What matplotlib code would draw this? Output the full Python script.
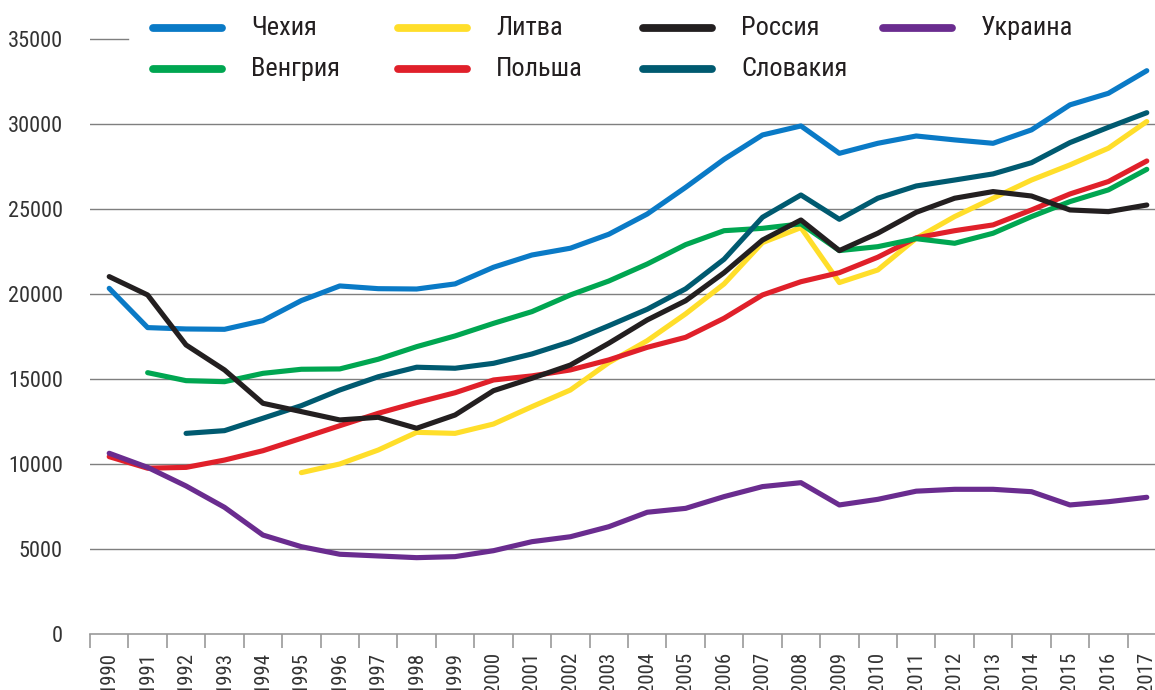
import numpy as np
import matplotlib
matplotlib.use("Agg")
import matplotlib.pyplot as plt
from matplotlib.lines import Line2D

plt.rcParams['font.family'] = ['Roboto Condensed', 'Liberation Sans Narrow', 'DejaVu Sans']
plt.rcParams['font.stretch'] = 'condensed'

years = list(range(1990, 2018))
nan = np.nan

czech = [20330, 18020, 17940, 17920, 18430, 19610, 20470, 20310, 20290, 20590,
         21570, 22290, 22690, 23510, 24700, 26270, 27920, 29350, 29880, 28270,
         28860, 29290, 29060, 28860, 29650, 31120, 31800, 33130]
hungary = [nan, 15370, 14900, 14840, 15330, 15570, 15590, 16160, 16900, 17530,
           18270, 18960, 19940, 20760, 21760, 22900, 23720, 23860, 24120, 22550,
           22780, 23250, 22980, 23570, 24550, 25430, 26120, 27330]
lithuania = [nan, nan, nan, nan, nan, 9490, 10000, 10820, 11860, 11800,
             12350, 13370, 14350, 15960, 17250, 18830, 20590, 23020, 23900, 20670,
             21410, 23270, 24550, 25630, 26700, 27590, 28570, 30140]
poland = [10430, 9750, 9800, 10230, 10780, 11510, 12250, 12980, 13610, 14190,
          14940, 15180, 15530, 16120, 16860, 17450, 18570, 19940, 20720, 21250,
          22160, 23300, 23720, 24060, 24940, 25880, 26610, 27820]
russia = [21020, 19940, 17000, 15530, 13570, 13080, 12590, 12745, 12100, 12880,
          14310, 15040, 15820, 17100, 18470, 19600, 21250, 23170, 24350, 22550,
          23570, 24800, 25630, 26020, 25760, 24940, 24840, 25230]
slovakia = [nan, nan, 11800, 11960, 12690, 13430, 14350, 15130, 15690, 15630,
            15920, 16470, 17190, 18130, 19100, 20300, 22040, 24510, 25820, 24390,
            25630, 26350, 26700, 27060, 27720, 28900, 29800, 30660]
ukraine = [10630, 9800, 8705, 7450, 5820, 5135, 4690, 4590, 4490, 4550,
           4900, 5430, 5720, 6310, 7160, 7390, 8080, 8670, 8900, 7590,
           7920, 8400, 8510, 8510, 8370, 7590, 7780, 8040]

names = ['Чехия', 'Венгрия', 'Литва', 'Польша', 'Россия', 'Словакия', 'Украина']
colors = {'Чехия': '#0a7ac6', 'Венгрия': '#00a651', 'Литва': '#ffde2a',
          'Польша': '#e0202a', 'Россия': '#231f20', 'Словакия': '#005a70',
          'Украина': '#6a2c8f'}
series = {'Чехия': czech, 'Венгрия': hungary, 'Литва': lithuania,
          'Польша': poland, 'Россия': russia, 'Словакия': slovakia,
          'Украина': ukraine}
draw_order = ['Литва', 'Польша', 'Венгрия', 'Словакия', 'Чехия', 'Россия', 'Украина']

W, H = 1155, 690
fig = plt.figure(figsize=(W / 100, H / 100), dpi=100)
# axes: left edge at 90px, x axis at 634px, one year ~38.4px wide
ax = fig.add_axes([90 / W, (H - 634) / H, (1166 - 90) / W, 607 / H])
ax.set_xlim(-0.5, len(years) - 0.5)
ax.set_ylim(0, 35700)

x = np.arange(len(years))
for n in draw_order:
    ax.plot(x, series[n], color=colors[n], lw=3.7,
            solid_joinstyle='round', solid_capstyle='round', zorder=3)

# gridlines, the top one is just a short stub
for v in range(5000, 35000, 5000):
    ax.axhline(v, color='#7f7f7f', lw=1.0, zorder=1)
ax.plot([-0.5, 0.5], [35000, 35000], color='#7f7f7f', lw=1.0, zorder=1)

for s in ['top', 'right', 'left']:
    ax.spines[s].set_visible(False)
ax.spines['bottom'].set_color('#999999')
ax.spines['bottom'].set_linewidth(1.2)

ax.set_yticks(range(0, 35001, 5000))
ax.set_yticklabels([str(v) for v in range(0, 35001, 5000)])
ax.tick_params(axis='y', length=0, pad=19.5, labelsize=16, labelcolor='#333333')

ax.set_xticks(np.arange(-0.5, len(years) - 0.5, 1.0))
ax.set_xticklabels([])
ax.tick_params(axis='x', which='major', length=10, width=1.2, color='#999999',
               direction='out')
ax.set_xticks(x, minor=True)
ax.set_xticklabels([str(y) for y in years], minor=True, rotation=90,
                   fontsize=15, color='#333333', va='top', ha='center')
ax.tick_params(axis='x', which='minor', length=0, pad=13)

# legend, 4 columns x 2 rows
col_x = [153, 398, 643, 883]
row_y = [28, 69]
for i, n in enumerate(names):
    cx = col_x[i // 2]
    ry = row_y[i % 2]
    fig.add_artist(Line2D([cx / W, (cx + 69) / W], [1 - ry / H, 1 - ry / H],
                          color=colors[n], lw=5.6, solid_capstyle='round',
                          transform=fig.transFigure))
    fig.text((cx + 98) / W, 1 - (ry + 7) / H, n, fontsize=19,
             color='#231f20', va='baseline', ha='left')

fig.savefig('out.png', dpi=100)
